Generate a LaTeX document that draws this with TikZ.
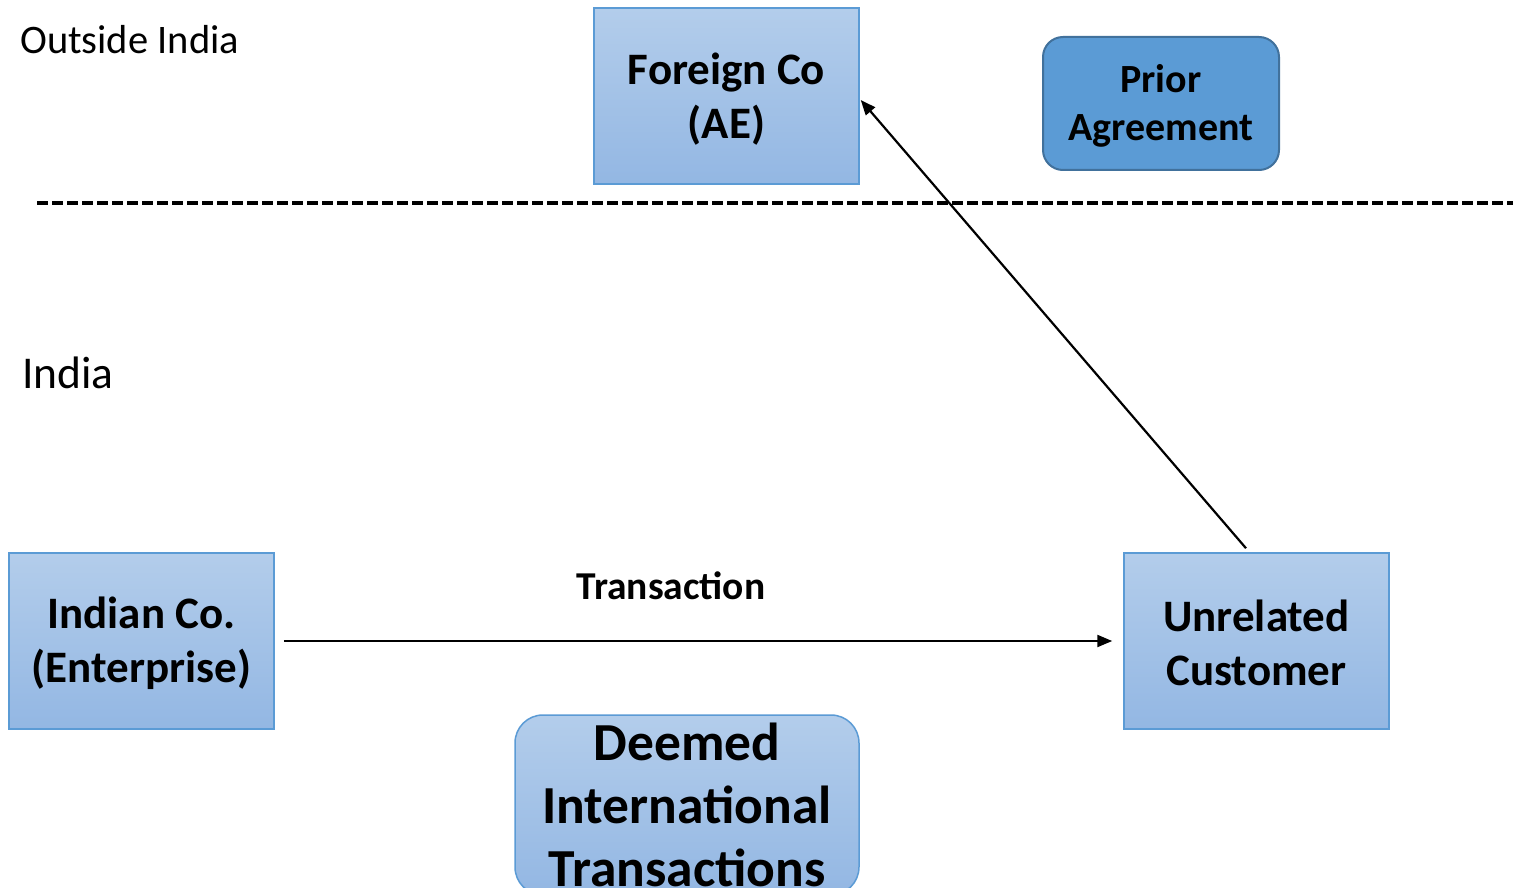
\documentclass[tikz,border=0pt]{standalone}
\usepackage{fontspec}
\setmainfont{Carlito}
\usetikzlibrary{arrows.meta}
\definecolor{boxtop}{HTML}{B3CDEB}
\definecolor{boxbot}{HTML}{93B7E3}
\definecolor{boxline}{HTML}{5B9BD5}
\definecolor{priorfill}{HTML}{5B9BD5}
\definecolor{priorline}{HTML}{41719C}
\tikzset{
  gradbox/.style={draw=boxline, line width=1.5pt, top color=boxtop, bottom color=boxbot,
    minimum width=265pt, minimum height=176pt, inner sep=0pt},
  boxtext/.style={align=center, inner sep=0pt, font=\fontsize{45}{54}\selectfont\bfseries},
  priorbox/.style={draw=priorline, line width=2pt, fill=priorfill, rounded corners=20pt,
    minimum width=236pt, minimum height=133pt, inner sep=0pt},
  priortext/.style={align=center, inner sep=0pt, font=\fontsize{40}{48}\selectfont\bfseries},
  deemedbox/.style={draw=boxline, line width=1.5pt, top color=boxtop, bottom color=boxbot,
    rounded corners=28pt, minimum width=344pt, minimum height=180pt, align=center, inner sep=0pt,
    font=\fontsize{53.5}{63}\selectfont\bfseries},
  regionlabel/.style={anchor=west, inner sep=0pt},
  conn/.style={line width=2.2pt, -{Triangle[length=15pt,width=12pt]}}
}
\begin{document}
\begin{tikzpicture}[x=1pt,y=-1pt]
\useasboundingbox (0,0) rectangle (1513,888);
\clip (0,0) rectangle (1513,888);
\fill[white] (0,0) rectangle (1513,888);
\node[regionlabel, font=\fontsize{40.5}{48}\selectfont] (outside) at (20,40) {Outside India};
\node[regionlabel, font=\fontsize{45.5}{54}\selectfont] (india) at (22,373) {India};
\coordinate (dl) at (37,203);
\coordinate (dr) at (1516,203);
\draw[line width=3.2pt, dash pattern=on 11pt off 4pt] (dl) -- (dr);
\node[gradbox] (foreign) at (726.5,96) {};
\node[boxtext] (foreigntext) at ([yshift=-3pt]foreign.center) {Foreign Co\\(AE)};
\node[priorbox] (prior) at (1161,103.5) {};
\node[priortext] (priortext) at ([yshift=-2pt]prior.center) {Prior\\Agreement};
\node[gradbox] (indian) at (141.5,641) {};
\node[boxtext] (indiantext) at ([yshift=-2pt]indian.center) {Indian Co.\\(Enterprise)};
\node[gradbox] (unrel) at (1256.5,641) {};
\node[boxtext] (unreltext) at ([yshift=-2pt]unrel.center) {Unrelated\\Customer};
\node[deemedbox] (deemed) at (687,805) {Deemed\\International\\Transactions};
\node[font=\fontsize{39.5}{46}\selectfont\bfseries] (tlabel) at (671,586) {Transaction};
\draw[conn, shorten <=9pt, shorten >=11pt] (indian.east) -- (unrel.west);
\draw[conn] ([xshift=-10.5pt,yshift=4pt]unrel.north) -- ([xshift=1pt,yshift=-4pt]foreign.east);
\end{tikzpicture}
\end{document}
